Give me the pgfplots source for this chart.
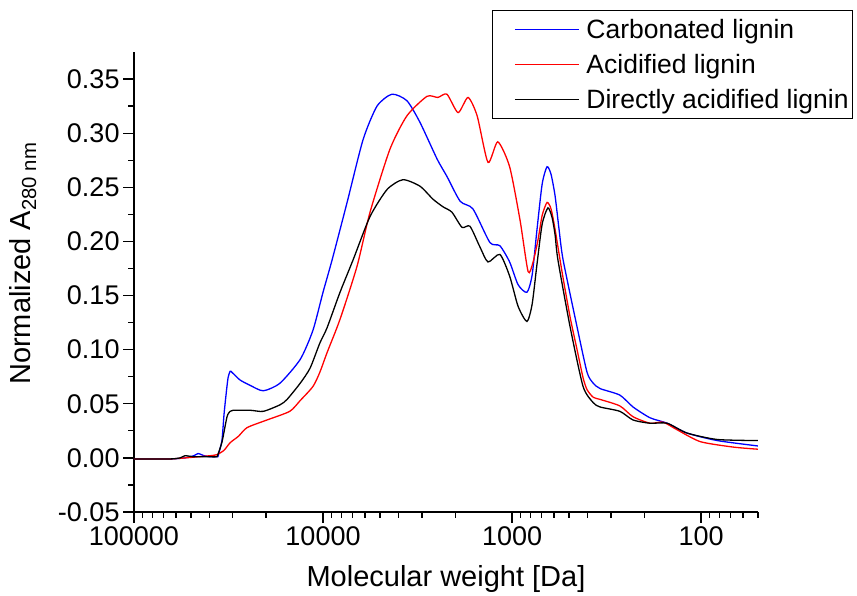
\documentclass[border=0pt]{standalone}
\usepackage{fontspec}
\setmainfont{Liberation Sans}
\usepackage{pgfplots}
\usepackage{pgfplotstable}
\pgfplotsset{compat=1.18}

% molecular weight [Da] vs normalized absorbance
\pgfplotstableread{
mw     a
100000 -0.001
64600  -0.001
53700  0.000
48200  0.002
45800  0.004
42500  0.002
39600  0.001
36400  0.001
36000  0.001
35100  0.008
34200  0.017
33400  0.040
32600  0.058
31800  0.074
31000  0.080
30300  0.079
27500  0.072
24300  0.067
20700  0.062
16900  0.069
13200  0.091
11300  0.118
10000  0.153
8950   0.183
7460   0.236
6140   0.294
5180   0.325
4320   0.336
3600   0.330
3070   0.310
2490   0.276
2210   0.260
1880   0.237
1610   0.230
1310   0.199
1160   0.196
1030   0.181
929    0.160
834    0.153
783    0.169
738    0.211
693    0.253
653    0.269
622    0.262
592    0.242
564    0.211
537    0.183
453    0.121
401    0.079
372    0.069
342    0.064
269    0.058
229    0.047
186    0.037
151    0.032
119    0.023
82.2   0.016
50     0.011
}\carbonated

\pgfplotstableread{
mw     a
100000 -0.001
64600  -0.001
45800  0.001
39600  0.002
36400  0.003
33400  0.007
31000  0.014
28000  0.020
25200  0.028
19800  0.035
15000  0.043
13200  0.053
11300  0.066
10400  0.079
9530   0.097
8130   0.128
6610   0.177
5640   0.227
4430   0.285
3600   0.316
2820   0.334
2470   0.333
2210   0.336
1930   0.319
1710   0.333
1530   0.316
1340   0.273
1190   0.292
1030   0.269
908    0.220
822    0.172
774    0.181
728    0.202
693    0.224
653    0.236
622    0.230
592    0.211
543    0.171
493    0.130
453    0.100
421    0.074
401    0.063
372    0.056
342    0.054
269    0.048
229    0.038
186    0.032
159    0.033
134    0.026
101    0.015
67.8   0.010
50     0.008
}\acidified

\pgfplotstableread{
mw     a
100000 -0.001
64600  -0.001
57000  0.000
53700  0.002
48000  0.001
39600  0.001
36400  0.001
36000  0.003
34200  0.015
32200  0.038
31000  0.043
29900  0.044
24300  0.044
20700  0.043
16900  0.049
15500  0.054
13200  0.069
11700  0.083
10400  0.106
9530   0.120
8130   0.153
6930   0.183
5640   0.223
4580   0.248
3780   0.257
3070   0.251
2620   0.239
2320   0.232
2080   0.227
1840   0.213
1670   0.214
1480   0.195
1340   0.181
1160   0.188
1030   0.168
929    0.140
834    0.126
783    0.142
738    0.179
693    0.216
646    0.231
614    0.222
592    0.206
572    0.183
493    0.121
421    0.066
372    0.051
342    0.047
269    0.043
229    0.035
186    0.032
151    0.032
119    0.023
82.2   0.017
50     0.016
}\direct

\begin{document}
\begin{tikzpicture}
\begin{axis}[
    scale only axis,
    width=624pt, height=460pt,
    xmode=log, x dir=reverse,
    xmin=50, xmax=100000,
    ymin=-0.05, ymax=0.375,
    axis x line*=bottom, axis y line*=left,
    axis line style={line width=1.6pt, -},
    tick align=outside,
    tick style={line width=1.3pt, black},
    major tick length=11pt, minor tick length=6pt,
    xtick={100,1000,10000,100000},
    xticklabels={100,1000,10000,100000},
    minor xtick={50,60,70,80,90,200,300,400,500,600,700,800,900,
                 2000,3000,4000,5000,6000,7000,8000,9000,
                 20000,30000,40000,50000,60000,70000,80000,90000},
    ytick={-0.05,0,0.05,0.1,0.15,0.2,0.25,0.3,0.35},
    minor y tick num=1,
    yticklabel style={/pgf/number format/.cd, fixed, fixed zerofill, precision=2, assume math mode=true},
    tick label style={font=\fontsize{27}{32}\selectfont},
    xlabel={Molecular weight [Da]},
    ylabel={Normalized A\textsubscript{280 nm}},
    label style={font=\fontsize{29}{34}\selectfont},
    xlabel style={at={(axis description cs:0.5,-0.146)}, anchor=center},
    ylabel style={at={(axis description cs:-0.178,0.54)}, anchor=center},
    legend style={at={(axis description cs:0.5737,1.0913)}, anchor=north west,
        draw, line width=1pt, font=\fontsize{26.5}{31}\selectfont,
        inner xsep=2pt, inner ysep=7pt, row sep=10pt},
    legend cell align=left,
]
\coordinate (O) at (rel axis cs:0,0);
\addlegendimage{legend image code/.code={\path (0pt,0pt) (89pt,0pt); \draw[blue, line width=1pt] (20pt,0pt) -- (84pt,0pt);}}
\addlegendentry{Carbonated lignin}
\addlegendimage{legend image code/.code={\path (0pt,0pt) (89pt,0pt); \draw[red, line width=1pt] (20pt,0pt) -- (84pt,0pt);}}
\addlegendentry{Acidified lignin}
\addlegendimage{legend image code/.code={\path (0pt,0pt) (89pt,0pt); \draw[black, line width=1pt] (20pt,0pt) -- (84pt,0pt);}}
\addlegendentry{Directly acidified lignin}
\addplot[blue, line width=1.3pt, smooth, tension=0.4, forget plot] table[x=mw, y=a] {\carbonated};
\addplot[red, line width=1.3pt, smooth, tension=0.4, forget plot] table[x=mw, y=a] {\acidified};
\addplot[black, line width=1.3pt, smooth, tension=0.4, forget plot] table[x=mw, y=a] {\direct};
\end{axis}
\pgfresetboundingbox
\path (O) ++(-134pt,-84pt) rectangle ++(857pt,596pt);
\end{tikzpicture}
\end{document}
